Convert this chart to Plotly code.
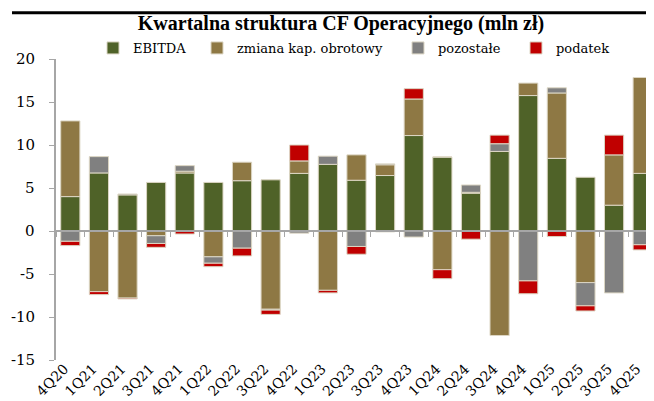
import plotly.graph_objects as go

categories = ["4Q20","1Q21","2Q21","3Q21","4Q21","1Q22","2Q22","3Q22","4Q22","1Q23","2Q23",
              "3Q23","4Q23","1Q24","2Q24","3Q24","4Q24","1Q25","2Q25","3Q25","4Q25"]
ebitda    = [4.0, 6.75, 4.2, 5.65, 6.75, 5.65, 5.85, 5.95, 6.7, 7.75, 5.9,
             6.45, 11.1, 8.6, 4.4, 9.25, 15.75, 8.45, 6.25, 3.0, 6.7]
zmiana    = [8.8, -7.05, -7.8, -0.55, 0.2, -3.0, 2.15, -9.1, 1.45, -6.9, 2.95,
             1.25, 4.25, -4.5, 0.1, -12.15, 1.45, 7.6, -6.0, 5.85, 11.15]
pozostale = [-1.2, 1.9, 0.1, -0.9, 0.65, -0.75, -2.0, -0.1, -0.25, 0.95, -1.8,
             0.1, -0.7, 0.0, 0.85, 0.9, -5.8, 0.6, -2.7, -7.2, -1.6]
podatek   = [-0.5, -0.35, -0.1, -0.45, -0.35, -0.4, -0.9, -0.5, 1.85, -0.3, -0.9,
             -0.1, 1.2, -1.05, -0.95, 1.0, -1.5, -0.65, -0.6, 2.3, -0.6]
y_ticks = [-15, -10, -5, 0, 5, 10, 15, 20]

series = [
    ("EBITDA", ebitda, "#4F6228", "legend"),
    ("zmiana kap. obrotowy", zmiana, "#8E7844", "legend2"),
    ("pozostałe", pozostale, "#808080", "legend3"),
    ("podatek", podatek, "#C00000", "legend4"),
]

FONT = "DejaVu Serif"
fig = go.Figure()
for name, vals, color, lg in series:
    fig.add_trace(go.Bar(
        x=categories, y=vals, name=name, legend=lg,
        marker=dict(color=color, line=dict(color="#DCD6C4", width=1)),
    ))

# helper trace so the zero-line axis is drawn
fig.add_trace(go.Scatter(x=categories, y=[0]*len(categories), xaxis="x2",
                         mode="lines", line=dict(width=0), opacity=0,
                         showlegend=False, hoverinfo="skip"))

ymin, ymax = -15, 20
plot_left, plot_right, plot_top, plot_bottom = 48, 649, 51, 352
pw = plot_right - plot_left
ph = plot_bottom - plot_top

def px_x(p):
    return (p - plot_left) / pw

def px_y(p):
    return (plot_bottom - p) / ph

legend_common = dict(orientation="h", xanchor="left", yanchor="middle",
                     bgcolor="rgba(0,0,0,0)", font=dict(family=FONT, size=13, color="#000000"),
                     itemwidth=30, tracegroupgap=0)
leg_x = [85, 189, 390, 508]
leg_y = px_y(40)

# y tick labels placed through the y scale
ytick_annotations = [
    dict(text=str(v), xref="paper", x=0, xanchor="right", xshift=-19,
         yref="y", y=v, yanchor="middle", showarrow=False,
         font=dict(family=FONT, size=15, color="#000000"))
    for v in y_ticks
]

fig.update_layout(
    width=654, height=401,
    margin=dict(l=plot_left, r=654 - plot_right, t=plot_top, b=401 - plot_bottom),
    paper_bgcolor="white", plot_bgcolor="white",
    barmode="relative", bargap=0.33,
    title=dict(text="<b>Kwartalna struktura CF Operacyjnego (mln zł)</b>",
               x=333/654, xanchor="center", xref="container",
               y=1 - 15/401, yanchor="middle", yref="container",
               font=dict(family="Liberation Serif", size=20, color="#000000")),
    legend=dict(x=px_x(leg_x[0]), y=leg_y, **legend_common),
    legend2=dict(x=px_x(leg_x[1]), y=leg_y, **legend_common),
    legend3=dict(x=px_x(leg_x[2]), y=leg_y, **legend_common),
    legend4=dict(x=px_x(leg_x[3]), y=leg_y, **legend_common),
    xaxis=dict(type="category", range=[-0.5, len(categories) - 0.5], showline=False,
               ticks="", tickangle=-45, showgrid=False, zeroline=False,
               tickfont=dict(family=FONT, size=14, color="#000000"),
               ticklabelstandoff=-3, ticklabelshift=-6),
    xaxis2=dict(type="category", overlaying="x", anchor="free",
                position=(0 - ymin) / (ymax - ymin),
                range=[-0.5, len(categories) - 0.5], showline=True, linecolor="#A6A6A6",
                linewidth=1.5, ticks="outside", tickson="boundaries", ticklen=5,
                tickcolor="#A6A6A6", tickwidth=1, showticklabels=False, showgrid=False,
                zeroline=False, categoryorder="array", categoryarray=categories),
    yaxis=dict(range=[ymin, ymax], tickvals=y_ticks, showgrid=False, zeroline=False,
               showline=True, linecolor="#A6A6A6", linewidth=1.5, ticks="outside",
               ticklen=5, tickcolor="#A6A6A6", showticklabels=False),
    annotations=ytick_annotations,
    shapes=[dict(type="line", xref="paper", yref="paper",
                 x0=px_x(4), x1=px_x(654), y0=px_y(4.8), y1=px_y(4.8),
                 line=dict(color="black", width=3))],
)

fig.write_html("out.html")
